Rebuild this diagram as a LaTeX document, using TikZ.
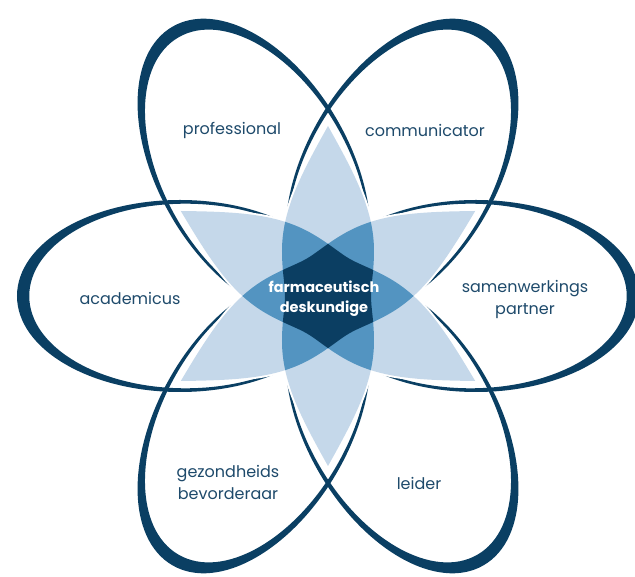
\documentclass[tikz,border=0pt]{standalone}
\usepackage{fontspec}
\setmainfont{Poppins}
\definecolor{navy}{HTML}{0A3F63}
\definecolor{petal}{HTML}{C5D8EA}
\definecolor{mid}{HTML}{5394C1}
\definecolor{core}{HTML}{0B3E62}
\definecolor{txt}{HTML}{1E4A6B}
\tikzset{
  bandshape/.style={insert path={
    (170,0) .. controls (120,28) and (85,46) .. (45,46)
    .. controls (25,46) and (12,43) .. (0,43)
    .. controls (-12,43) and (-25,46) .. (-45,46)
    .. controls (-85,46) and (-120,28) .. (-170,0)
    .. controls (-120,-28) and (-85,-46) .. (-45,-46)
    .. controls (-25,-46) and (-12,-43) .. (0,-43)
    .. controls (12,-43) and (25,-46) .. (45,-46)
    .. controls (85,-46) and (120,-28) .. (170,0) -- cycle}},
  loopring/.style={fill=navy, even odd rule},
  lbl/.style={text=txt, font=\fontsize{16}{22}\selectfont, align=center, inner sep=0pt},
  corelbl/.style={text=white, font=\fontsize{14.5}{20}\selectfont\bfseries, align=center, inner sep=0pt}
}
\begin{document}
\begin{tikzpicture}[x=1pt,y=1pt]
\useasboundingbox (-328,-281) rectangle (307,296);
\fill[white] (-328,-281) rectangle (307,296);
% loops
\foreach \a in {0,60,120,180,240,300}{
  \fill[loopring, rotate=\a] (148,0) ellipse [x radius=163, y radius=96]
                              (142.5,0) ellipse [x radius=156.25, y radius=92.3];
}
% white halo of petals
\foreach \a in {90,30,150}{
  \draw[white, line width=4, rotate=\a, bandshape];
}
% light petals
\foreach \a in {90,30,150}{
  \fill[petal, rotate=\a, bandshape];
}
% medium overlaps
\begin{scope}
  \clip[rotate=90, bandshape];
  \fill[mid, rotate=30, bandshape];
  \fill[mid, rotate=150, bandshape];
\end{scope}
\begin{scope}
  \clip[rotate=30, bandshape];
  \fill[mid, rotate=150, bandshape];
\end{scope}
% dark core
\begin{scope}
  \clip[rotate=90, bandshape];
  \clip[rotate=30, bandshape];
  \fill[core, rotate=150, bandshape];
\end{scope}
% labels
\node[lbl] (prof) at (-96,166) {professional};
\node[lbl] (comm) at (97,166) {communicator};
\node[lbl] (acad) at (-198,-2) {academicus};
\node[lbl] (samen) at (197,-3) {samenwerkings\\partner};
\node[lbl] (gezond) at (-100,-186) {gezondheids\\bevorderaar};
\node[lbl] (leider) at (91,-187) {leider};
\node[corelbl] (core) at (-4,-3) {farmaceutisch\\deskundige};
\end{tikzpicture}
\end{document}
